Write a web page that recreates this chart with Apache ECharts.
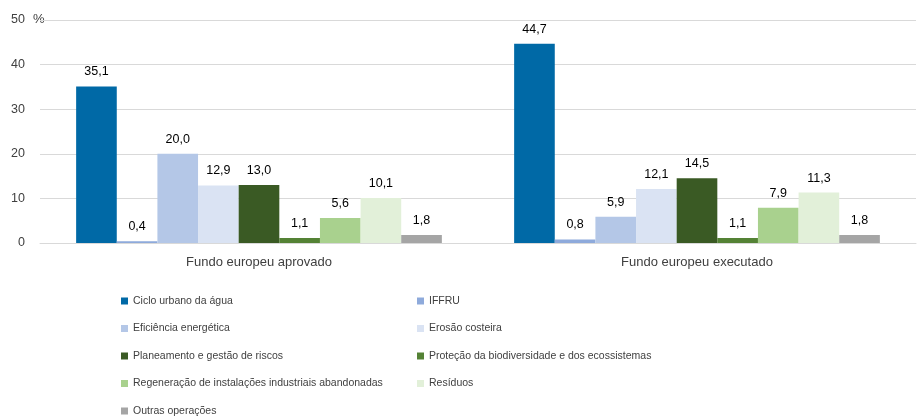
<!DOCTYPE html>
<html>
<head>
<meta charset="utf-8">
<script src="https://cdn.jsdelivr.net/npm/echarts@6/dist/echarts.min.js"></script>
<style>
  html, body { margin: 0; padding: 0; background: #fff; }
  #main { width: 918px; height: 416px; }
</style>
</head>
<body>
<div id="main"></div>
<script>
  var categories = ['Fundo europeu aprovado', 'Fundo europeu executado'];
  var seriesNames = [
    'Ciclo urbano da água',
    'IFFRU',
    'Eficiência energética',
    'Erosão costeira',
    'Planeamento e gestão de riscos',
    'Proteção da biodiversidade e dos ecossistemas',
    'Regeneração de instalações industriais abandonadas',
    'Resíduos',
    'Outras operações'
  ];
  var aprovado = [35.1, 0.4, 20.0, 12.9, 13.0, 1.1, 5.6, 10.1, 1.8];
  var executado = [44.7, 0.8, 5.9, 12.1, 14.5, 1.1, 7.9, 11.3, 1.8];
  var yTicks = [0, 10, 20, 30, 40, 50];

  var colors = ['#0069a6', '#8eaadb', '#b4c7e7', '#dae3f3', '#3a5a24',
                '#548235', '#a9d18e', '#e2f0d9', '#a5a5a5'];
  var fontName = 'Liberation Sans';

  var myChart = echarts.init(document.getElementById('main'));

  var series = seriesNames.map(function (name, i) {
    return {
      name: name,
      type: 'bar',
      barGap: 0,
      barCategoryGap: '16.5%',
      itemStyle: { color: colors[i] },
      label: {
        show: true,
        position: 'top',
        distance: 8,
        color: '#000',
        fontFamily: fontName,
        fontSize: 12.5,
        formatter: function (p) {
          return p.value.toFixed(1).replace('.', ',');
        }
      },
      data: [aprovado[i], executado[i]]
    };
  });

  var legendText = { color: '#404040', fontFamily: fontName, fontSize: 10.5, lineHeight: 12 };

  var option = {
    color: colors,
    animation: false,
    grid: { left: 40, right: 2, top: 20, bottom: 173 },
    legend: [
      {
        orient: 'vertical',
        left: 121, top: 295, height: 140,
        padding: 0,
        itemWidth: 7, itemHeight: 7, itemGap: 15.5,
        icon: 'rect',
        textStyle: legendText,
        data: seriesNames.filter(function (n, i) { return i % 2 === 0; })
      },
      {
        orient: 'vertical',
        left: 417, top: 295, height: 140,
        padding: 0,
        itemWidth: 7, itemHeight: 7, itemGap: 15.5,
        icon: 'rect',
        textStyle: legendText,
        data: seriesNames.filter(function (n, i) { return i % 2 === 1; })
      }
    ],
    graphic: [{
      type: 'text',
      left: 33, top: 13,
      style: { text: '%', fill: '#404040', font: '13px ' + fontName }
    }],
    xAxis: {
      type: 'category',
      data: categories,
      axisLine: { lineStyle: { color: '#d9d9d9' } },
      axisTick: { show: false },
      axisLabel: { color: '#404040', fontFamily: fontName, fontSize: 13, margin: 13 }
    },
    yAxis: {
      type: 'value',
      min: yTicks[0],
      max: yTicks[yTicks.length - 1],
      interval: 10,
      axisLine: { show: false },
      axisTick: { show: false },
      splitLine: { lineStyle: { color: '#d9d9d9' } },
      axisLabel: { color: '#404040', fontFamily: fontName, fontSize: 12.5, margin: 15 }
    },
    series: series
  };

  myChart.setOption(option);
</script>
</body>
</html>
